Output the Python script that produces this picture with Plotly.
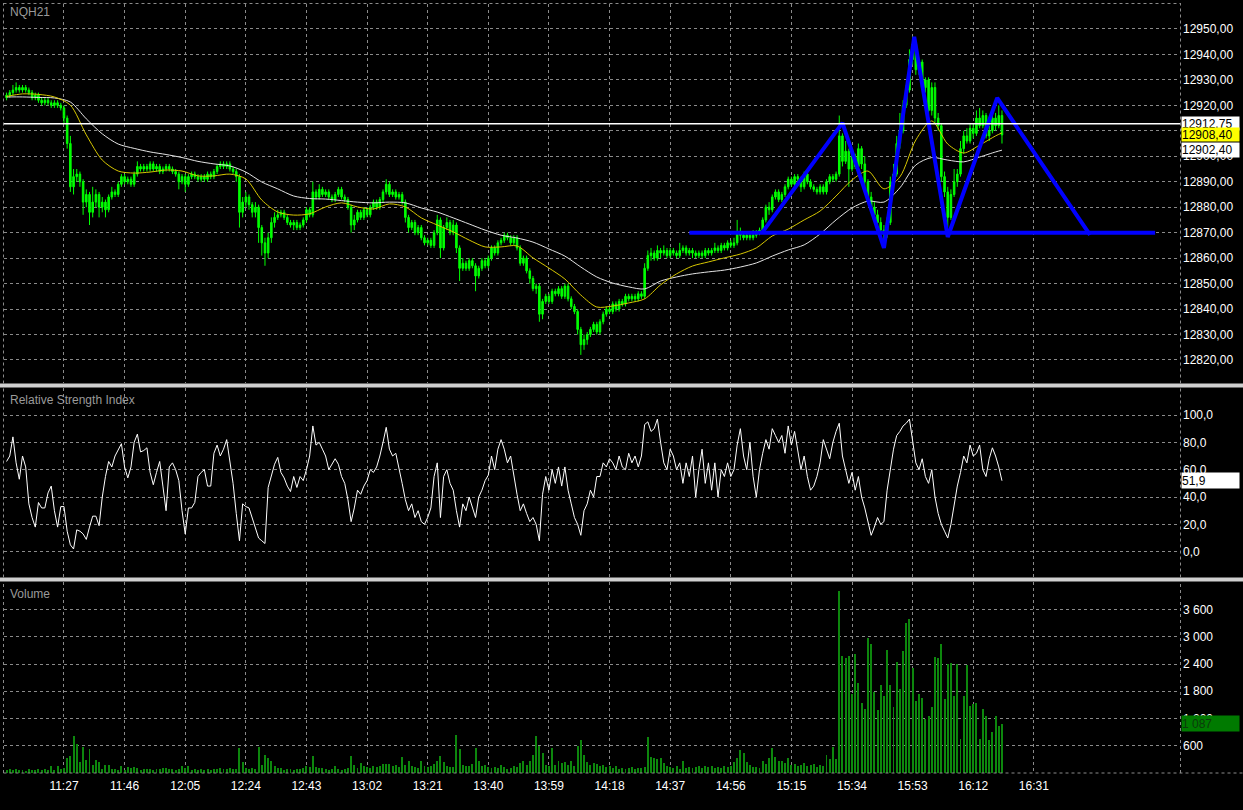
import plotly.graph_objects as go

# ---------------- data ----------------
symbol = "NQH21"
start_time = "11:09"  # first one-minute bar

open_ = [
    12923, 12924, 12925, 12926, 12927, 12926, 12927, 12926, 12925, 12923,
    12924, 12922, 12921, 12922, 12921, 12920, 12921, 12920, 12919, 12915,
    12905, 12888, 12892, 12893, 12890, 12882, 12885, 12878, 12882, 12885,
    12880, 12882, 12879, 12884, 12886, 12885, 12889, 12892, 12890, 12891,
    12889, 12893, 12896, 12895, 12896, 12895, 12897, 12895, 12896, 12894,
    12895, 12896, 12895, 12894, 12893, 12890, 12892, 12889, 12892, 12893,
    12892, 12891, 12892, 12891, 12893, 12892, 12894, 12896, 12897, 12896,
    12897, 12895, 12894, 12892, 12878, 12882, 12884, 12881, 12878, 12880,
    12872, 12866, 12862, 12868, 12874, 12876, 12877, 12878, 12876, 12874,
    12873, 12874, 12872, 12873, 12875, 12879, 12877, 12886, 12884, 12887,
    12885, 12886, 12884, 12883, 12885, 12887, 12884, 12883, 12880, 12873,
    12875, 12878, 12876, 12879, 12877, 12880, 12882, 12880, 12883, 12886,
    12889, 12885, 12886, 12884, 12885, 12882, 12876, 12872, 12874, 12870,
    12872, 12868, 12866, 12867, 12865, 12870, 12875, 12864, 12872, 12874,
    12870, 12873, 12864, 12856, 12858, 12856, 12859, 12857, 12853, 12856,
    12859, 12857, 12860, 12864, 12862, 12866, 12867, 12869, 12868, 12866,
    12868, 12864, 12858, 12860, 12855, 12852, 12848, 12849, 12838, 12843,
    12845, 12843, 12847, 12846, 12848, 12845, 12849, 12844, 12841, 12839,
    12832, 12826, 12828, 12830, 12832, 12834, 12831, 12835, 12838, 12840,
    12839, 12842, 12840, 12843, 12842, 12845, 12844, 12845, 12844, 12846,
    12845, 12856, 12861, 12862, 12860, 12863, 12862, 12863, 12861, 12863,
    12862, 12861, 12863, 12864, 12862, 12863, 12862, 12861, 12862, 12861,
    12863, 12862, 12863, 12864, 12863, 12865, 12864, 12866, 12865, 12866,
    12870, 12869, 12868, 12869, 12868, 12869, 12870, 12871, 12875, 12880,
    12879, 12884, 12886, 12883, 12885, 12888, 12891, 12889, 12892, 12891,
    12888, 12893, 12890, 12888, 12887, 12886, 12888, 12886, 12890, 12892,
    12891, 12893, 12908, 12898, 12902, 12895, 12900, 12896, 12903, 12897,
    12890, 12884, 12880, 12877, 12874, 12871, 12870, 12874, 12890, 12893,
    12905, 12910, 12920, 12926, 12938, 12944, 12934, 12937, 12927, 12930,
    12918, 12927, 12915, 12912, 12892, 12886, 12876, 12885, 12890, 12893,
    12903, 12908, 12906, 12911, 12909, 12915, 12912, 12916, 12908, 12910,
    12915, 12912, 12916,
]
high = [
    12925, 12926, 12928, 12929, 12928, 12928, 12928, 12927, 12926, 12925,
    12925, 12923, 12923, 12923, 12922, 12922, 12922, 12921, 12920, 12916,
    12908, 12895, 12895, 12894, 12891, 12887, 12886, 12888, 12887, 12886,
    12884, 12883, 12885, 12888, 12887, 12890, 12893, 12893, 12892, 12892,
    12894, 12898, 12897, 12897, 12897, 12898, 12898, 12897, 12897, 12896,
    12897, 12897, 12896, 12895, 12894, 12893, 12893, 12893, 12894, 12894,
    12893, 12893, 12893, 12894, 12894, 12895, 12897, 12898, 12898, 12898,
    12898, 12896, 12895, 12893, 12884, 12886, 12885, 12882, 12882, 12881,
    12873, 12868, 12870, 12876, 12878, 12879, 12879, 12879, 12877, 12875,
    12875, 12875, 12874, 12876, 12880, 12880, 12890, 12887, 12889, 12888,
    12887, 12887, 12885, 12886, 12888, 12888, 12885, 12884, 12881, 12877,
    12879, 12879, 12880, 12880, 12881, 12883, 12883, 12884, 12887, 12891,
    12890, 12887, 12887, 12886, 12886, 12883, 12877, 12875, 12875, 12873,
    12873, 12869, 12868, 12868, 12871, 12877, 12876, 12873, 12876, 12875,
    12875, 12874, 12865, 12860, 12859, 12860, 12860, 12858, 12857, 12860,
    12860, 12861, 12865, 12865, 12867, 12868, 12870, 12870, 12869, 12869,
    12869, 12865, 12861, 12861, 12856, 12853, 12850, 12850, 12844, 12846,
    12846, 12848, 12848, 12849, 12849, 12850, 12850, 12845, 12842, 12840,
    12833, 12830, 12831, 12833, 12835, 12835, 12836, 12839, 12841, 12841,
    12843, 12843, 12844, 12844, 12846, 12846, 12846, 12846, 12847, 12847,
    12858, 12863, 12864, 12863, 12865, 12864, 12865, 12864, 12864, 12864,
    12863, 12866, 12865, 12865, 12864, 12864, 12863, 12863, 12863, 12864,
    12864, 12864, 12866, 12865, 12866, 12866, 12867, 12867, 12868, 12875,
    12872, 12870, 12870, 12870, 12871, 12871, 12872, 12876, 12881, 12882,
    12885, 12887, 12887, 12886, 12889, 12892, 12892, 12893, 12893, 12892,
    12894, 12894, 12891, 12889, 12888, 12889, 12889, 12891, 12893, 12893,
    12894, 12916, 12909, 12906, 12903, 12902, 12901, 12905, 12904, 12900,
    12891, 12886, 12882, 12879, 12876, 12873, 12876, 12892, 12897, 12908,
    12917, 12922, 12928, 12942, 12947, 12945, 12938, 12938, 12931, 12931,
    12929, 12929, 12917, 12913, 12894, 12888, 12887, 12895, 12895, 12906,
    12910, 12911, 12913, 12913, 12918, 12919, 12918, 12917, 12912, 12917,
    12917, 12920, 12918,
]
low = [
    12922, 12923, 12924, 12925, 12925, 12925, 12925, 12924, 12922, 12922,
    12921, 12920, 12920, 12920, 12919, 12919, 12919, 12918, 12913, 12903,
    12886, 12885, 12890, 12888, 12877, 12880, 12873, 12876, 12880, 12876,
    12878, 12876, 12878, 12883, 12884, 12884, 12888, 12889, 12889, 12888,
    12888, 12892, 12894, 12894, 12894, 12894, 12894, 12894, 12893, 12893,
    12894, 12894, 12893, 12892, 12887, 12889, 12886, 12888, 12891, 12891,
    12890, 12890, 12890, 12890, 12891, 12891, 12893, 12895, 12895, 12895,
    12894, 12893, 12890, 12872, 12876, 12880, 12879, 12876, 12876, 12866,
    12861, 12857, 12860, 12866, 12872, 12875, 12876, 12875, 12873, 12872,
    12871, 12871, 12871, 12872, 12874, 12876, 12876, 12883, 12883, 12884,
    12884, 12883, 12882, 12882, 12884, 12883, 12882, 12879, 12870, 12871,
    12874, 12875, 12875, 12876, 12876, 12879, 12879, 12879, 12882, 12885,
    12884, 12884, 12883, 12883, 12881, 12874, 12870, 12871, 12869, 12869,
    12867, 12865, 12865, 12864, 12864, 12869, 12860, 12863, 12871, 12869,
    12869, 12862, 12851, 12855, 12855, 12855, 12856, 12847, 12852, 12855,
    12856, 12856, 12859, 12861, 12861, 12865, 12866, 12867, 12865, 12865,
    12863, 12857, 12857, 12854, 12850, 12847, 12846, 12835, 12836, 12842,
    12842, 12842, 12845, 12845, 12844, 12844, 12843, 12840, 12838, 12830,
    12822, 12824, 12826, 12829, 12831, 12830, 12830, 12834, 12837, 12838,
    12838, 12839, 12839, 12841, 12841, 12843, 12843, 12843, 12843, 12844,
    12844, 12855, 12859, 12859, 12859, 12860, 12861, 12860, 12860, 12861,
    12860, 12860, 12862, 12861, 12861, 12860, 12860, 12860, 12860, 12860,
    12861, 12861, 12862, 12862, 12862, 12863, 12863, 12864, 12864, 12865,
    12867, 12867, 12867, 12867, 12867, 12868, 12869, 12870, 12874, 12877,
    12878, 12883, 12882, 12882, 12884, 12887, 12888, 12888, 12890, 12886,
    12887, 12889, 12887, 12886, 12885, 12885, 12885, 12885, 12889, 12890,
    12890, 12892, 12896, 12897, 12888, 12894, 12895, 12895, 12895, 12888,
    12882, 12878, 12876, 12873, 12869, 12867, 12868, 12873, 12887, 12892,
    12903, 12909, 12919, 12925, 12936, 12932, 12932, 12926, 12925, 12916,
    12916, 12913, 12910, 12890, 12884, 12872, 12875, 12884, 12888, 12892,
    12901, 12905, 12905, 12907, 12908, 12911, 12911, 12907, 12906, 12909,
    12910, 12911, 12905,
]
close = [
    12924, 12925, 12926, 12927, 12926, 12927, 12926, 12925, 12923, 12924,
    12922, 12921, 12922, 12921, 12920, 12921, 12920, 12919, 12915, 12905,
    12888, 12892, 12893, 12890, 12882, 12885, 12878, 12882, 12885, 12880,
    12882, 12879, 12884, 12886, 12885, 12889, 12892, 12890, 12891, 12889,
    12893, 12896, 12895, 12896, 12895, 12897, 12895, 12896, 12894, 12895,
    12896, 12895, 12894, 12893, 12890, 12892, 12889, 12892, 12893, 12892,
    12891, 12892, 12891, 12893, 12892, 12894, 12896, 12897, 12896, 12897,
    12895, 12894, 12892, 12878, 12882, 12884, 12881, 12878, 12880, 12872,
    12866, 12862, 12868, 12874, 12876, 12877, 12878, 12876, 12874, 12873,
    12874, 12872, 12873, 12875, 12879, 12877, 12886, 12884, 12887, 12885,
    12886, 12884, 12883, 12885, 12887, 12884, 12883, 12880, 12873, 12875,
    12878, 12876, 12879, 12877, 12880, 12882, 12880, 12883, 12886, 12889,
    12885, 12886, 12884, 12885, 12882, 12876, 12872, 12874, 12870, 12872,
    12868, 12866, 12867, 12865, 12870, 12875, 12864, 12872, 12874, 12870,
    12873, 12864, 12856, 12858, 12856, 12859, 12857, 12853, 12856, 12859,
    12857, 12860, 12864, 12862, 12866, 12867, 12869, 12868, 12866, 12868,
    12864, 12858, 12860, 12855, 12852, 12848, 12849, 12838, 12843, 12845,
    12843, 12847, 12846, 12848, 12845, 12849, 12844, 12841, 12839, 12832,
    12826, 12828, 12830, 12832, 12834, 12831, 12835, 12838, 12840, 12839,
    12842, 12840, 12843, 12842, 12845, 12844, 12845, 12844, 12846, 12845,
    12856, 12861, 12862, 12860, 12863, 12862, 12863, 12861, 12863, 12862,
    12861, 12863, 12864, 12862, 12863, 12862, 12861, 12862, 12861, 12863,
    12862, 12863, 12864, 12863, 12865, 12864, 12866, 12865, 12866, 12870,
    12869, 12868, 12869, 12868, 12869, 12870, 12871, 12875, 12880, 12879,
    12884, 12886, 12883, 12885, 12888, 12891, 12889, 12892, 12891, 12888,
    12893, 12890, 12888, 12887, 12886, 12888, 12886, 12890, 12892, 12891,
    12893, 12908, 12898, 12902, 12895, 12900, 12896, 12903, 12897, 12890,
    12884, 12880, 12877, 12874, 12871, 12870, 12874, 12890, 12893, 12905,
    12910, 12920, 12926, 12938, 12944, 12934, 12937, 12927, 12930, 12918,
    12927, 12915, 12912, 12892, 12886, 12876, 12885, 12890, 12893, 12903,
    12908, 12906, 12911, 12909, 12915, 12912, 12916, 12908, 12910, 12915,
    12912, 12916, 12908.4,
]
volume = [
    60, 80, 70, 90, 60, 70, 50, 80, 60, 70,
    90, 60, 80, 70, 150, 60, 150, 90, 100, 330,
    370, 820, 640, 235, 565, 290, 530, 175, 285, 235,
    80, 175, 175, 90, 88, 70, 155, 70, 120, 110,
    130, 110, 60, 80, 75, 90, 70, 85, 80, 100,
    110, 90, 80, 60, 80, 155, 100, 140, 60, 80,
    70, 90, 60, 80, 70, 90, 80, 100, 80, 90,
    100, 80, 90, 540, 235, 100, 90, 110, 90, 565,
    175, 400, 320, 250, 140, 110, 100, 70, 90, 80,
    70, 90, 80, 110, 150, 120, 370, 130, 110, 100,
    80, 70, 90, 150, 90, 70, 80, 100, 370, 170,
    100, 210, 140, 120, 110, 150, 120, 140, 200, 200,
    190, 150, 170, 120, 350, 180, 250, 150, 130, 110,
    260, 140, 120, 150, 200, 260, 360, 240, 150, 120,
    130, 830, 530, 170, 140, 150, 200, 540, 250, 140,
    170, 120, 110, 130, 100, 180, 130, 90, 110, 150,
    130, 220, 250, 180, 270, 400, 820, 600, 440, 180,
    150, 540, 180, 250, 220, 230, 170, 250, 160, 590,
    720, 400, 230, 170, 220, 200, 150, 180, 120, 140,
    110, 150, 90, 110, 80, 100, 120, 90, 100, 110,
    130, 790, 350, 330, 300, 330, 210, 150, 120, 100,
    140, 90, 250, 110, 130, 100, 120, 140, 110, 150,
    120, 160, 110, 130, 100, 140, 120, 150, 240, 330,
    510, 440, 230, 170, 130, 120, 100, 260, 190, 330,
    540, 350, 260, 250, 220, 330, 170, 200, 150, 180,
    220, 150, 170, 200, 130, 170, 150, 400, 300, 560,
    300, 4007, 2578, 2527, 2578, 1736, 2615, 1978, 1538, 1407,
    2967, 2850, 1773, 1385, 1934, 1700, 2710, 1934, 1450, 2455,
    1846, 2688, 3311, 3399, 2322, 1590, 1736, 1641, 1186, 1260,
    1443, 2557, 2527, 2835, 1626, 2396, 2418, 1700, 2396, 747,
    1700, 2374, 1480, 1510, 1538, 747, 1407, 1260, 715, 901,
    1260, 1040, 1087,
]
rsi = [
    66, 70, 84, 65, 53, 70, 62, 35, 25, 18,
    36, 32, 32, 43, 48, 30, 18, 33, 33, 15,
    5, 2, 16, 15, 13, 9, 18, 26, 26, 19,
    40, 55, 66, 62, 70, 75, 79, 62, 54, 62,
    80, 86, 73, 74, 76, 58, 49, 58, 66, 48,
    30, 62, 65, 60, 52, 30, 13, 32, 32, 36,
    55, 58, 60, 48, 48, 72, 78, 70, 75, 82,
    65, 50, 28, 8, 35, 33, 32, 25, 18, 10,
    8, 6, 47, 55, 64, 69, 58, 54, 48, 44,
    55, 47, 55, 52, 60, 70, 92, 78, 80, 75,
    70, 60, 64, 68, 64, 55, 50, 38, 22, 32,
    45, 42, 48, 52, 60, 58, 62, 70, 80, 91,
    75, 70, 72, 62, 50, 38, 30, 35, 25, 30,
    22, 20, 25, 32, 55, 65, 25, 55, 60, 50,
    45, 30, 18, 35, 30, 40, 32, 25, 40, 45,
    52, 56, 70, 60, 75, 82, 75, 65, 70, 55,
    42, 30, 35, 28, 22, 25, 20, 8, 42, 55,
    45, 60, 50, 62, 48, 62, 45, 35, 25, 20,
    12, 30, 35, 45, 40, 55, 55, 65, 62, 68,
    65, 60, 70, 62, 60, 72, 65, 70, 62, 70,
    93, 95, 88, 90, 97, 80, 65, 60, 75, 70,
    60, 65, 50, 65, 55, 70, 40, 60, 75, 50,
    65, 45, 65, 40, 60, 55, 65, 55, 60, 78,
    90, 70, 60, 80, 55, 40, 60, 72, 82, 75,
    90, 85, 80, 85, 72, 92, 78, 88, 75, 60,
    70, 55, 45, 48, 55, 65, 82, 75, 68, 80,
    88, 94, 70, 60, 50, 58, 45, 55, 40, 32,
    22, 12, 18, 25, 20, 22, 45, 60, 75, 85,
    88, 92, 94, 97, 82, 65, 60, 68, 55, 50,
    60, 40, 28, 20, 15, 10, 20, 35, 48, 58,
    70, 65, 78, 70, 72, 78, 60, 55, 68, 76,
    70, 62, 51.9,
]
# moving averages read every 5th bar (plus the last bar)
ma_fast = [
    12923.5, 12924.5, 12924.3, 12923.3, 12920.1, 12908.4, 12898.5, 12894.2,
    12893.4, 12893.8, 12894.6, 12894.2, 12892.3, 12892.3, 12893.0, 12891.1,
    12882.8, 12878.1, 12876.9, 12877.4, 12880.1, 12881.7, 12880.1, 12879.3,
    12881.3, 12880.1, 12875.8, 12873.0, 12870.3, 12867.1, 12864.4, 12864.4,
    12864.8, 12860.1, 12856.1, 12851.8, 12845.5, 12840.8, 12841.2, 12842.4,
    12844.0, 12849.5, 12853.8, 12856.9, 12858.5, 12860.1, 12861.6, 12864.0,
    12868.7, 12871.4, 12875.0, 12878.5, 12884.4, 12890.7, 12894.2, 12887.2,
    12891.9, 12906.4, 12913.9, 12904.8, 12901.3, 12904.4, 12908.0, 12909.2,
]
ma_slow = [
    12923.3, 12923.3, 12923.1, 12922.9, 12921.3, 12914.7, 12908.8, 12904.8,
    12903.1, 12901.7, 12900.7, 12899.5, 12898.0, 12897.0, 12896.2, 12893.8,
    12889.9, 12887.2, 12884.4, 12883.4, 12883.2, 12882.6, 12882.0, 12881.7,
    12882.0, 12881.7, 12879.7, 12878.1, 12875.8, 12873.4, 12871.0, 12869.0,
    12867.9, 12866.3, 12863.6, 12860.8, 12856.5, 12852.6, 12850.2, 12848.7,
    12847.9, 12851.0, 12852.6, 12853.8, 12854.6, 12855.3, 12856.5, 12858.1,
    12860.8, 12863.2, 12865.2, 12869.5, 12875.0, 12879.7, 12882.4, 12882.0,
    12887.6, 12896.6, 12899.5, 12898.5, 12897.8, 12899.7, 12901.7, 12902.4,
]
ma_step = 5

level_price = 12912.75
bid_price = 12908.40
ma_slow_last = 12902.40
rsi_last = 51.9
volume_last = 1087

neck_times = ["14:43", "17:09"]
neck_prices = [12870.0, 12870.0]
zigzag_times = ["15:06", "15:31", "15:44", "15:53:30", "16:04", "16:19:30", "16:48:36"]
zigzag_prices = [12870.3, 12913.1, 12864.0, 12946.9, 12868.3, 12922.9, 12869.1]

time_labels = ["11:27", "11:46", "12:05", "12:24", "12:43", "13:02", "13:21", "13:40",
               "13:59", "14:18", "14:37", "14:56", "15:15", "15:34", "15:53", "16:12", "16:31"]
price_ticks = [12820, 12830, 12840, 12850, 12860, 12870, 12880, 12890, 12900,
               12910, 12920, 12930, 12940, 12950]
price_tick_text = ["12820,00", "12830,00", "12840,00", "12850,00", "12860,00", "12870,00",
                   "12880,00", "12890,00", "12900,00", "12910,00", "12920,00", "12930,00",
                   "12940,00", "12950,00"]
rsi_ticks = [0, 20, 40, 60, 80, 100]
rsi_tick_text = ["0,0", "20,0", "40,0", "60,0", "80,0", "100,0"]
vol_ticks = [600, 1200, 1800, 2400, 3000, 3600]
vol_tick_text = ["600", "1 200", "1 800", "2 400", "3 000", "3 600"]

# ---------------- helpers ----------------
def to_min(s):
    p = s.split(":")
    sec = int(p[2]) if len(p) > 2 else 0
    return int(p[0]) * 60 + int(p[1]) + sec / 60.0

W, H = 1243, 810
ML, MR, MT, MB = 4, 63, 4, 37
PW, PH = W - ML - MR, H - MT - MB
FONT = "Liberation Sans, Arial, sans-serif"

def pyf(pix):  # pixel row -> paper y
    return (H - MB - pix) / PH

def pxf(pix):  # pixel column -> paper x
    return (pix - ML) / PW

t0 = to_min(start_time)
bar_t = [t0 + i for i in range(len(close))]
ma_idx = list(range(0, len(close) - 1, ma_step)) + [len(close) - 1]
ma_t = [bar_t[i] for i in ma_idx]

LIME = "#00ff00"
GRID = "#8a8a8a"

fig = go.Figure()
fig.add_trace(go.Candlestick(
    x=bar_t, open=open_, high=high, low=low, close=close,
    increasing=dict(line=dict(color=LIME, width=1), fillcolor=LIME),
    decreasing=dict(line=dict(color=LIME, width=1), fillcolor=LIME),
    whiskerwidth=0, yaxis="y", xaxis="x", showlegend=False, hoverinfo="skip"))
fig.add_trace(go.Scatter(x=ma_t, y=ma_slow, mode="lines", yaxis="y",
                         line=dict(color="#e4e4e4", width=1, shape="spline", smoothing=0.8),
                         showlegend=False, hoverinfo="skip"))
fig.add_trace(go.Scatter(x=ma_t, y=ma_fast, mode="lines", yaxis="y",
                         line=dict(color="#d8c800", width=1, shape="spline", smoothing=0.8),
                         showlegend=False, hoverinfo="skip"))
fig.add_trace(go.Scatter(x=[to_min(t) for t in neck_times], y=neck_prices, mode="lines", yaxis="y",
                         line=dict(color="#0000ff", width=4), showlegend=False, hoverinfo="skip"))
fig.add_trace(go.Scatter(x=[to_min(t) for t in zigzag_times], y=zigzag_prices, mode="lines", yaxis="y",
                         line=dict(color="#0000ff", width=4), showlegend=False, hoverinfo="skip"))
fig.add_trace(go.Scatter(x=bar_t, y=rsi, mode="lines", yaxis="y2",
                         line=dict(color="#ffffff", width=1), showlegend=False, hoverinfo="skip"))
fig.add_trace(go.Bar(x=bar_t, y=volume, yaxis="y3", width=0.62,
                     marker=dict(color="#0d870d", line=dict(width=0)),
                     showlegend=False, hoverinfo="skip"))

tick_font = dict(family=FONT, size=12, color="#ffffff")
common_y = dict(side="right", anchor="x", showgrid=True, gridcolor=GRID, griddash="3px,3px",
                gridwidth=1, zeroline=False, showline=False, ticks="", tickfont=tick_font,
                tickmode="array", fixedrange=True, automargin=False, ticklabelstandoff=2)

fig.update_layout(
    width=W, height=H, margin=dict(l=ML, r=MR, t=MT, b=MB, autoexpand=False),
    paper_bgcolor="#000000", plot_bgcolor="#000000",
    hovermode=False, bargap=0,
    xaxis=dict(domain=[0, 1], anchor="y3", range=[668.2, 1036.8],
               tickmode="array", tickvals=[to_min(t) for t in time_labels], ticktext=time_labels,
               showgrid=True, gridcolor=GRID, griddash="3px,3px", gridwidth=1,
               zeroline=False, showline=False, ticks="", tickfont=tick_font, automargin=False,
               ticklabelstandoff=4, rangeslider=dict(visible=False), fixedrange=True),
    yaxis=dict(domain=[pyf(383), 1.0], range=[12810.96, 12959.8],
               tickvals=price_ticks, ticktext=price_tick_text, **common_y),
    yaxis2=dict(domain=[pyf(577), pyf(388)], range=[-18.5, 119.75],
                tickvals=rsi_ticks, ticktext=rsi_tick_text, **common_y),
    yaxis3=dict(domain=[0, pyf(582)], range=[-4.4, 4209],
                tickvals=vol_ticks, ticktext=vol_tick_text, **common_y),
)

shapes = []
# horizontal price level
shapes.append(dict(type="line", xref="paper", yref="y", x0=0, x1=1, y0=level_price, y1=level_price,
                   line=dict(color="#ffffff", width=1.5)))
# panel separators
for top, bot in [(383.5, 387.5), (577.5, 581.5)]:
    shapes.append(dict(type="rect", xref="paper", yref="paper", x0=pxf(0), x1=pxf(W),
                       y0=pyf(bot), y1=pyf(top), fillcolor="#cfcfcf", line=dict(width=0), layer="above"))
# dotted frame lines
for xx in (3.5, 1180.5):
    for top, bot in [(3, 383.5), (387.5, 577.5), (581.5, 773)]:
        shapes.append(dict(type="line", xref="paper", yref="paper", x0=pxf(xx), x1=pxf(xx),
                           y0=pyf(bot), y1=pyf(top), line=dict(color=GRID, width=1, dash="3px,3px")))
shapes.append(dict(type="line", xref="paper", yref="paper", x0=pxf(3.5), x1=pxf(1180.5),
                   y0=pyf(3.5), y1=pyf(3.5), line=dict(color=GRID, width=1, dash="3px,3px")))
shapes.append(dict(type="line", xref="paper", yref="paper", x0=pxf(3.5), x1=pxf(W),
                   y0=pyf(773), y1=pyf(773), line=dict(color=GRID, width=1, dash="3px,3px")))
fig.update_layout(shapes=shapes)

def side_label(text, y, yref, bg, fg, h=13):
    return dict(x=1, xref="paper", xanchor="left", xshift=1, y=y, yref=yref, yanchor="middle",
                text=text, showarrow=False, bgcolor=bg, width=57, height=h, align="left",
                borderpad=0, font=dict(family=FONT, size=12, color=fg))

def fmt_price(v):
    return ("%.2f" % v).replace(".", ",")

annotations = [
    side_label(fmt_price(level_price), level_price, "y", "#ffffff", "#000000"),
    side_label(fmt_price(bid_price), bid_price, "y", "#ffff00", "#000000"),
    side_label(fmt_price(ma_slow_last), ma_slow_last, "y", "#ffffff", "#000000", h=14),
    side_label(("%.1f" % rsi_last).replace(".", ","), rsi_last, "y2", "#ffffff", "#000000", h=15),
    side_label("{:,}".format(volume_last).replace(",", " "), volume_last, "y3", "#007a00", "#0b3b0b", h=15),
]
for txt, ypix in [(symbol, 12), ("Relative Strength Index", 399.5), ("Volume", 593.5)]:
    annotations.append(dict(x=pxf(8), y=pyf(ypix), xref="paper", yref="paper", xanchor="left",
                            yanchor="middle", text=txt, showarrow=False,
                            font=dict(family=FONT, size=12, color="#9a9a9a")))
fig.update_layout(annotations=annotations)

fig.write_html("out.html", config={"displayModeBar": False, "staticPlot": True},
               post_script="document.body.style.margin='0';document.body.style.overflow='hidden';")
